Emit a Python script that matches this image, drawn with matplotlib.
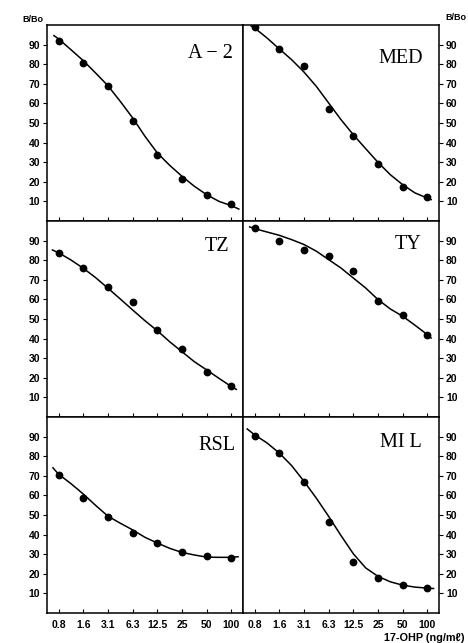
import numpy as np
import matplotlib
matplotlib.use('Agg')
from matplotlib import pyplot as plt

doses = ['0.8', '1.6', '3.1', '6.3', '12.5', '25', '50', '100']
pos = np.arange(len(doses))

# measured B/Bo points (%)
a2_pts = [92.0, 80.5, 69.1, 51.2, 33.8, 21.4, 13.4, 8.8]
med_pts = [99.0, 87.8, 78.9, 57.3, 43.4, 29.1, 17.3, 12.4]
tz_pts = [83.5, 76.0, 66.2, 58.7, 44.4, 34.9, 22.8, 15.8]
ty_pts = [96.5, 90.0, 85.4, 82.0, 74.3, 59.0, 52.2, 41.7]
rsl_pts = [70.3, 58.7, 49.1, 40.9, 35.9, 30.9, 29.0, 28.0]
mil_pts = [90.2, 81.6, 66.6, 46.6, 26.1, 17.9, 14.1, 12.8]

# fitted curves
a2_cx = [-0.19, 0, 0.5, 1, 1.5, 2, 2.5, 3, 3.5, 4, 4.5, 5, 5.5, 6, 6.5, 7, 7.3]
a2_cy = [94.6, 92.9, 87.4, 81.8, 75.5, 69.0, 61.0, 52.6, 43.2, 34.7, 28.4, 22.8, 17.7, 13.4, 10.0, 7.8, 6.1]
med_cx = [-0.14, 0, 0.5, 1, 1.5, 2, 2.5, 3, 3.5, 4, 4.5, 5, 5.5, 6, 6.5, 7, 7.15]
med_cy = [99.5, 98.5, 93.4, 87.8, 82.3, 76.0, 68.7, 60.2, 51.7, 44.0, 36.9, 29.9, 23.6, 18.5, 14.3, 11.7, 10.9]
tz_cx = [-0.25, 0, 0.5, 1, 1.5, 2, 2.5, 3, 3.5, 4, 4.5, 5, 5.5, 6, 6.5, 7, 7.2]
tz_cy = [85.2, 83.8, 80.1, 75.9, 71.1, 65.7, 60.2, 54.6, 49.1, 44.0, 38.4, 33.3, 28.2, 24.0, 19.7, 15.5, 14.1]
ty_cx = [-0.2, 0, 0.5, 1, 1.5, 2, 2.5, 3, 3.5, 4, 4.5, 5, 5.5, 6, 6.5, 7, 7.15]
ty_cy = [97.0, 96.1, 94.4, 92.7, 90.5, 88.0, 84.6, 80.3, 76.0, 70.9, 65.8, 59.9, 55.1, 51.4, 46.8, 42.0, 40.3]
rsl_cx = [-0.23, 0, 0.5, 1, 1.5, 2, 2.5, 3, 3.5, 4, 4.5, 5, 5.5, 6, 6.5, 7, 7.27]
rsl_cy = [74.1, 70.8, 66.0, 60.7, 54.9, 49.4, 45.8, 42.4, 38.6, 35.7, 33.0, 30.9, 29.6, 28.5, 28.4, 28.4, 28.7]
mil_cx = [-0.3, 0, 0.5, 1, 1.5, 2, 2.5, 3, 3.5, 4, 4.5, 5, 5.5, 6, 6.5, 7, 7.25]
mil_cy = [93.9, 90.9, 86.8, 81.6, 75.2, 67.2, 58.6, 49.3, 39.5, 30.2, 23.0, 18.7, 15.9, 14.2, 13.2, 12.7, 12.5]

panels = [
    ('A − 2', a2_pts, a2_cx, a2_cy, 0.95, 0.855),
    ('MED', med_pts, med_cx, med_cy, 0.92, 0.83),
    ('TZ', tz_pts, tz_cx, tz_cy, 0.93, 0.87),
    ('TY', ty_pts, ty_cx, ty_cy, 0.91, 0.88),
    ('RSL', rsl_pts, rsl_cx, rsl_cy, 0.96, 0.855),
    ('MI L', mil_pts, mil_cx, mil_cy, 0.91, 0.87),
]

fig = plt.figure(figsize=(4.68, 6.43), dpi=100)
W, H = 468.0, 643.0
lefts = [47, 243]
tops = [25, 221, 417]
pw, ph = 196, 196

for i, (name, pts, cx, cy, tx, ty) in enumerate(panels):
    row, col = i // 2, i % 2
    ax = fig.add_axes([lefts[col] / W, 1 - (tops[row] + ph) / H, pw / W, ph / H])
    ax.plot(cx, cy, color='black', lw=1.1)
    ax.plot(pos, pts, 'o', color='black', markersize=4.6)
    ax.set_xlim(-0.47, 7.47)
    ax.set_ylim(0, 100)
    ax.set_yticks(range(10, 100, 10))
    ax.set_xticks(pos)
    for s in ax.spines.values():
        s.set_linewidth(1.1)
    ax.tick_params(axis='x', direction='in', length=3, width=0.8, pad=5)
    ax.tick_params(axis='y', direction='out', length=3, width=0.8, pad=2)
    if row == 2:
        ax.set_xticklabels(doses, fontsize=7.5, family='Liberation Sans',
                           fontweight='bold')
    else:
        ax.set_xticklabels([])
    if col == 1:
        ax.yaxis.tick_right()
    for lab in ax.get_yticklabels():
        lab.set_fontsize(7.5)
        lab.set_family('Liberation Sans')
        lab.set_fontweight('bold')
    ax.text(tx, ty, name, transform=ax.transAxes, ha='right', va='center',
            fontsize=14.5, family=['Liberation Serif', 'DejaVu Serif'])

fig.text(22 / W, 1 - 19 / H, 'B/Bo', fontsize=6.5, fontweight='bold',
         family='Liberation Sans', ha='left', va='center')
fig.text(466 / W, 1 - 17 / H, 'B/Bo', fontsize=6.5, fontweight='bold',
         family='Liberation Sans', ha='right', va='center')
fig.text(464 / W, 1 - 638 / H, '17-OHP (ng/mℓ)', fontsize=7.8, fontweight='bold',
         family='Liberation Sans', ha='right', va='center')

fig.savefig('out.png', dpi=100)
